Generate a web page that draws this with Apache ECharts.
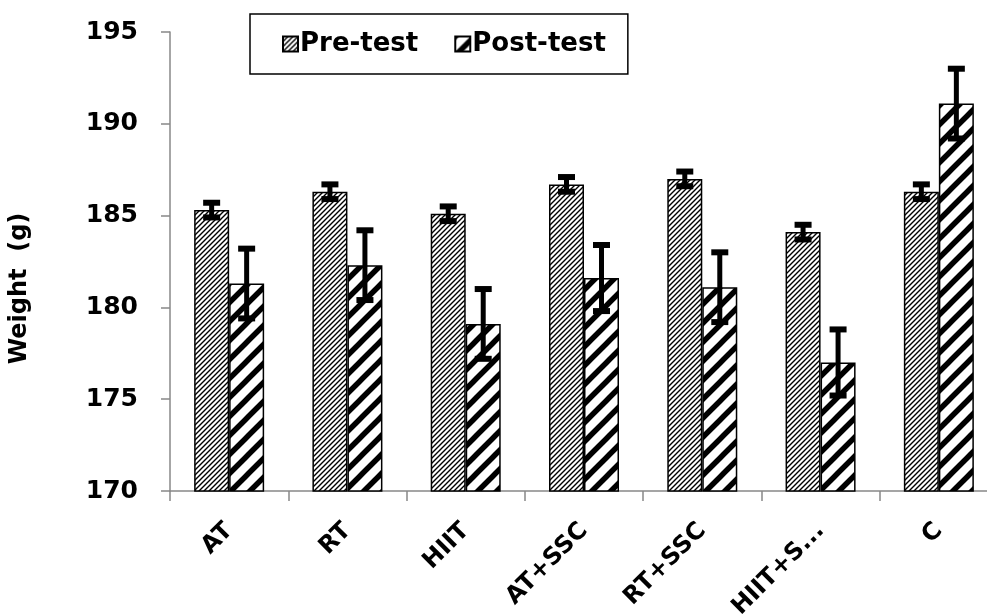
<!DOCTYPE html>
<html>
<head>
<meta charset="utf-8">
<script src="https://cdn.jsdelivr.net/npm/echarts@6/dist/echarts.min.js"></script>
<style>
html,body{margin:0;padding:0;background:#fff;}
#chart{width:987px;height:615px;}
</style>
</head>
<body>
<div id="chart"></div>
<script>
// ---- data ----
const categories = ['AT', 'RT', 'HIIT', 'AT+SSC', 'RT+SSC', 'HIIT+S...', 'C'];
const preTest = [185.3, 186.3, 185.1, 186.7, 187.0, 184.1, 186.3];
const preErr = [0.4, 0.4, 0.4, 0.4, 0.4, 0.4, 0.4];
const postTest = [181.3, 182.3, 179.1, 181.6, 181.1, 177.0, 191.1];
const postErr = [1.9, 1.9, 1.9, 1.8, 1.9, 1.8, 1.9];
const yTicks = { min: 170, max: 195, interval: 5 };

// ---- patterns ----
function hatch(p, lw) {
  const c = document.createElement('canvas');
  c.width = p; c.height = p;
  const g = c.getContext('2d');
  g.fillStyle = '#fff';
  g.fillRect(0, 0, p, p);
  g.strokeStyle = '#000';
  g.lineWidth = lw;
  g.beginPath();
  g.moveTo(0, p); g.lineTo(p, 0);
  g.moveTo(-p / 2, p / 2); g.lineTo(p / 2, -p / 2);
  g.moveTo(p / 2, 1.5 * p); g.lineTo(1.5 * p, p / 2);
  g.stroke();
  return c;
}
const prePattern = { image: hatch(5, 1.4), repeat: 'repeat' };
const postPattern = { image: hatch(19, 5.5), repeat: 'repeat' };

const BAR_W = 35;
const FONT = 'DejaVu Sans';

function errSeries(vals, errs, side) {
  return {
    type: 'custom',
    z: 10,
    silent: true,
    data: vals.map((v, i) => [i, v - errs[i], v + errs[i]]),
    encode: { x: 0, y: [1, 2] },
    renderItem: function (params, api) {
      const i = api.value(0);
      const lo = api.coord([i, api.value(1)]);
      const hi = api.coord([i, api.value(2)]);
      const x = lo[0] + side * BAR_W / 2;
      const capW = 17, capH = 6;
      return {
        type: 'group',
        children: [
          { type: 'line', shape: { x1: x, y1: lo[1], x2: x, y2: hi[1] }, style: { stroke: '#000', lineWidth: 5 } },
          { type: 'rect', shape: { x: x - capW / 2, y: hi[1] - capH / 2, width: capW, height: capH }, style: { fill: '#000' } },
          { type: 'rect', shape: { x: x - capW / 2, y: lo[1] - capH / 2, width: capW, height: capH }, style: { fill: '#000' } }
        ]
      };
    }
  };
}

const chart = echarts.init(document.getElementById('chart'), null, { renderer: 'canvas' });
chart.setOption({
  animation: false,
  backgroundColor: '#fff',
  grid: { left: 170, right: -11, top: 32, bottom: 124, containLabel: false, outerBoundsMode: 'none' },
  legend: {
    data: ['Pre-test', 'Post-test'],
    left: 250, top: 14,
    padding: [17, 22, 17, 32],
    borderColor: '#000', borderWidth: 1.5,
    itemWidth: 15, itemHeight: 15, itemGap: 36,
    icon: 'rect',
    textStyle: { fontFamily: FONT, fontWeight: 'bold', fontSize: 26, color: '#000', padding: [0, 0, 0, -3] }
  },
  xAxis: {
    type: 'category',
    data: categories,
    axisLine: { show: true, lineStyle: { color: '#888', width: 1.5 } },
    axisTick: { show: true, alignWithLabel: false, length: 10, lineStyle: { color: '#888', width: 1.5 } },
    axisLabel: { interval: 0, rotate: 45, margin: 36, fontFamily: FONT, fontWeight: 'bold', fontSize: 24, color: '#000' },
    splitLine: { show: false }
  },
  yAxis: {
    type: 'value',
    min: yTicks.min, max: yTicks.max, interval: yTicks.interval,
    name: 'Weight  (g)',
    nameLocation: 'middle',
    nameGap: 138,
    nameRotate: 90,
    nameTextStyle: { fontFamily: FONT, fontWeight: 'bold', fontSize: 24, color: '#000', padding: [0, 54, 0, 0] },
    axisLine: { show: true, lineStyle: { color: '#888', width: 1.5 } },
    axisTick: { show: true, inside: false, length: 9, lineStyle: { color: '#888', width: 1.5 } },
    axisLabel: { margin: 32, fontFamily: FONT, fontWeight: 'bold', fontSize: 25, color: '#000' },
    splitLine: { show: false }
  },
  series: [
    {
      name: 'Pre-test', type: 'bar', data: preTest, barWidth: BAR_W, barGap: '0%',
      itemStyle: { color: prePattern, borderColor: '#000', borderWidth: 1.5 }
    },
    {
      name: 'Post-test', type: 'bar', data: postTest, barWidth: BAR_W, barGap: '0%',
      itemStyle: { color: postPattern, borderColor: '#000', borderWidth: 1.5 }
    },
    errSeries(preTest, preErr, -1),
    errSeries(postTest, postErr, 1)
  ]
});
</script>
</body>
</html>
